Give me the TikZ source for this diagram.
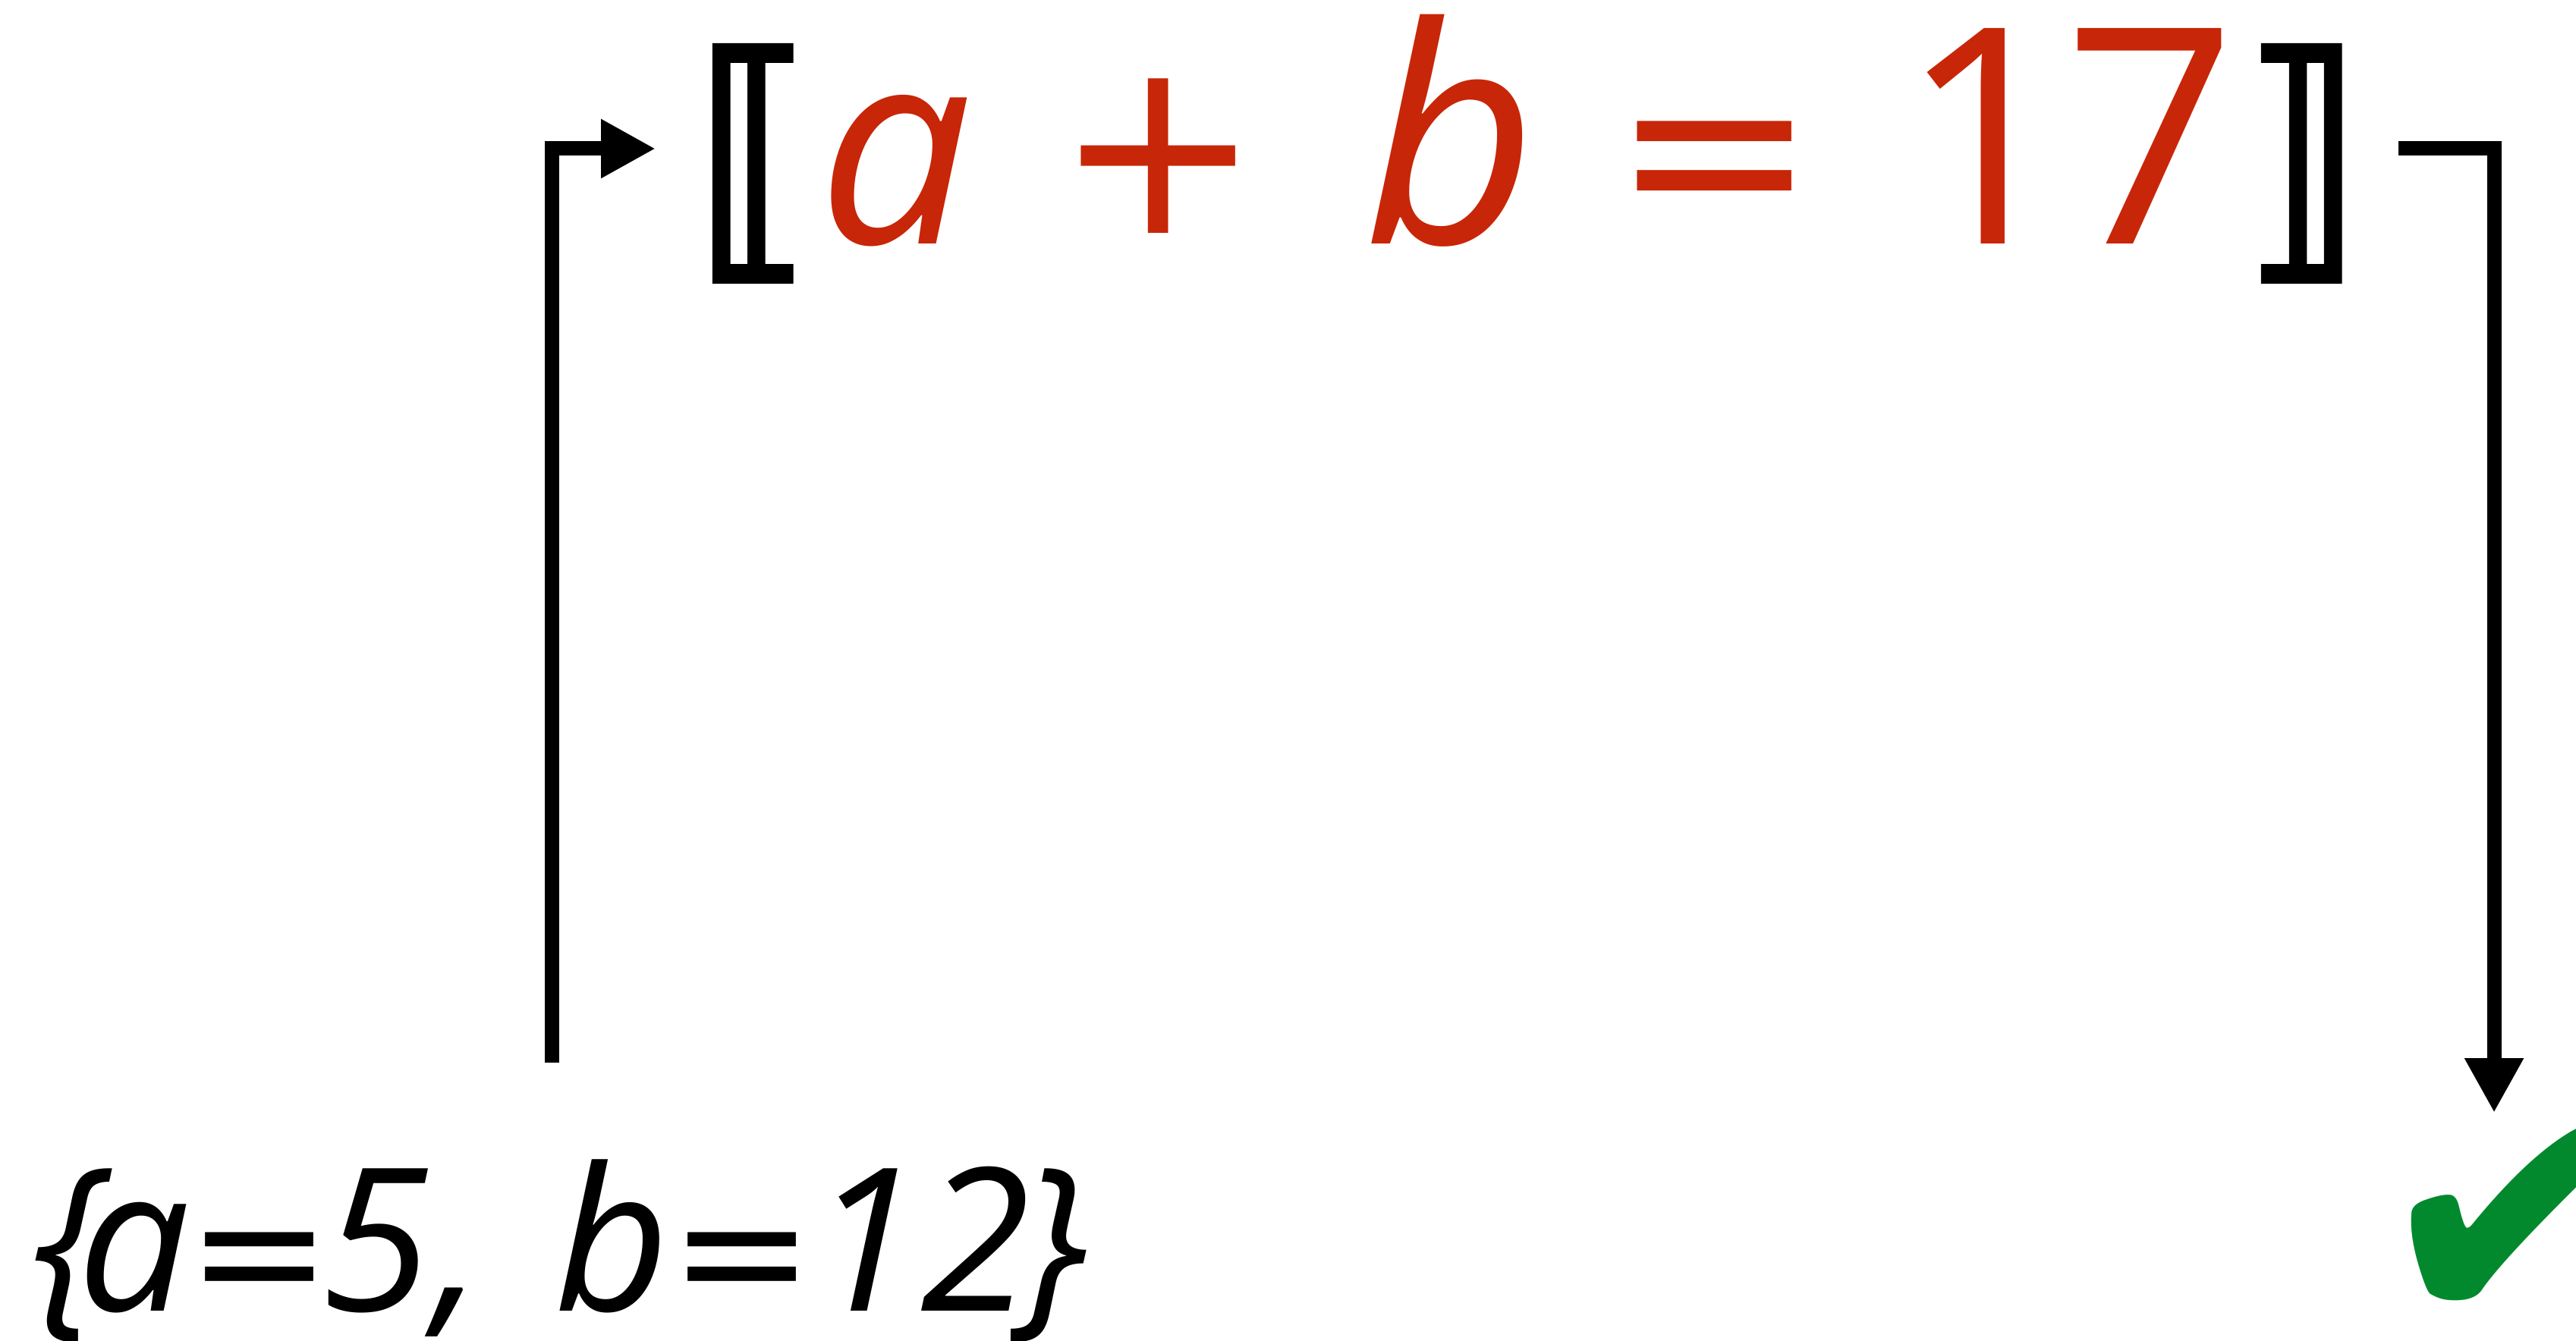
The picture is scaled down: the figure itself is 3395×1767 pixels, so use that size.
\documentclass[tikz,border=0pt]{standalone}
\usepackage{fontspec}
\usepackage{graphicx}
\usetikzlibrary{arrows.meta}
\newfontfamily\osans{Open Sans}
\newfontfamily\djv{DejaVu Sans}
\newfontfamily\djvfat[FakeBold=2.6]{DejaVu Sans}
\definecolor{redc}{RGB}{200,38,8}
\definecolor{greenc}{RGB}{2,137,46}
\tikzset{
  conn/.style={line width=1.9pt, -{Triangle[length=7.2pt,width=7.3pt]}},
  bigtxt/.style={inner sep=0pt, text=redc, font=\osans\fontsize{39.8}{48}\selectfont},
  bigit/.style={inner sep=0pt, text=redc, font=\osans\itshape\fontsize{39.8}{48}\selectfont},
  bigop/.style={inner sep=0pt, text=redc, font=\djv\fontsize{32.5}{40}\selectfont},
  smalltxt/.style={inner sep=0pt, font=\osans\itshape\fontsize{26.3}{32}\selectfont},
  smallop/.style={inner sep=0pt, font=\djv\fontsize{22.8}{28}\selectfont},
  brk/.style={inner sep=0pt, font=\djvfat},
  checkmk/.style={inner sep=0pt, text=greenc, font=\djv\fontsize{46}{50}\selectfont}
}
\begin{document}
\begin{tikzpicture}[x=0.1pt,y=-0.1pt]
\useasboundingbox (0,0) rectangle (3395,1767);
\clip (0,0) rectangle (3395,1767);
% top formula
\node[brk, anchor=center] (lb) at (994,215.5) {\resizebox*{15.6pt}{30.8pt}{⟦}};
\node[bigit, anchor=base, font=\osans\itshape\fontsize{36}{44}\selectfont] (ta) at (1180,322) {a};
\node[bigop, anchor=base] (tplus) at (1527,307) {+};
\node[bigit, anchor=base] (tb) at (1911,322) {b};
\node[bigop, anchor=base] (teq) at (2260,308) {=};
\node[bigtxt, anchor=base] (t1) at (2617,322) {1};
\node[bigtxt, anchor=base] (t7) at (2834,322) {7};
\node[brk, anchor=center] (rb) at (3035,215.5) {\resizebox*{15.6pt}{30.8pt}{⟧}};
% bottom assignment
\node[smalltxt, anchor=base] (blb) at (89,1728) {\{};
\node[smalltxt, anchor=base] (ba) at (177,1728) {a};
\node[smallop, anchor=base] (beq1) at (342,1728) {=};
\node[smalltxt, anchor=base] (b5) at (496,1728) {5};
\node[smalltxt, anchor=base] (bcomma) at (604,1728) {,};
\node[smalltxt, anchor=base] (bb) at (806,1728) {b};
\node[smallop, anchor=base] (beq2) at (978,1728) {=};
\node[smalltxt, anchor=base] (b1) at (1140,1728) {1};
\node[smalltxt, anchor=base] (b2) at (1286,1728) {2};
\node[smalltxt, anchor=base] (brb) at (1388,1728) {\}};
% check mark
\node[checkmk, anchor=base west, rotate=-5] (chk) at (3110,1744) {✔};
% connectors
\coordinate (s1) at (727,1401);
\coordinate (e1) at (864,196);
\coordinate (s2) at (3161,196);
\coordinate (e2) at (3287,1467);
\draw[conn] (s1) |- (e1);
\draw[conn] (s2) -| (e2);
\end{tikzpicture}
\end{document}
